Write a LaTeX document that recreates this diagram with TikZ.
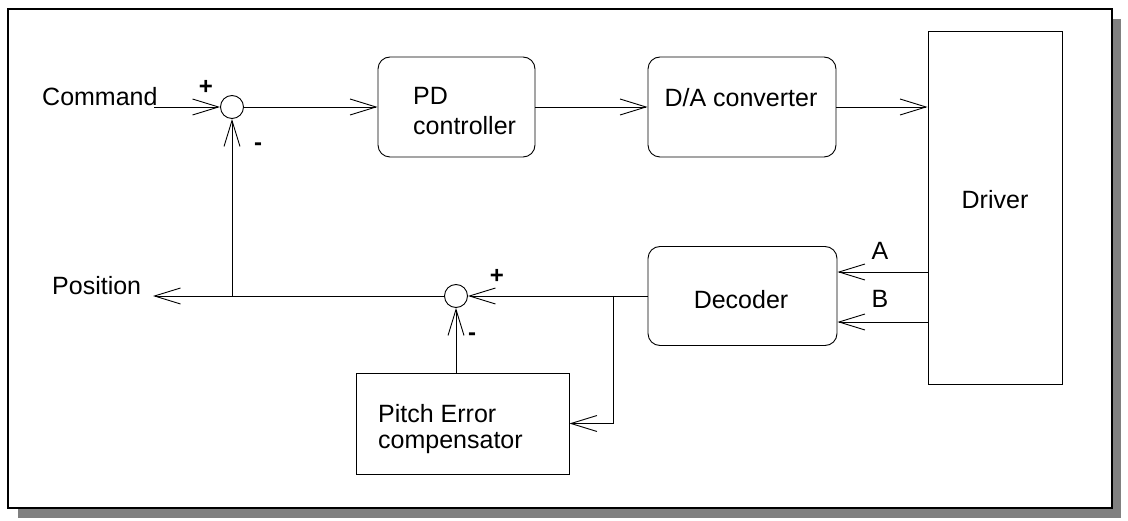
\documentclass[tikz,border=0pt]{standalone}
\usepackage{fontspec}
\setmainfont{Liberation Sans}
\usetikzlibrary{arrows.meta}
\begin{document}
\begin{tikzpicture}[x=1pt,y=-1pt,
  ln/.style={line width=0.9pt,black},
  barb/.style={ln,-{Straight Barb[length=26pt,width=16pt,line width=0.9pt]}},
  rbox/.style={draw,ln,rounded corners=12pt,inner sep=0pt},
  sbox/.style={draw,ln,inner sep=0pt},
  sumj/.style={draw,ln,circle,minimum size=23pt,inner sep=0pt},
  txt/.style={inner sep=0pt,font=\fontsize{25}{29}\selectfont},
  sign/.style={inner sep=0pt,font=\fontsize{24}{28}\selectfont\bfseries}]
\useasboundingbox (0,0) rectangle (1128,521);
% frame with shadow
\fill[black!50] (18,19) rectangle (1121,518);
\draw[line width=2pt,fill=white] (8,9) rectangle (1112,508);
% blocks
\node[rbox,minimum width=157pt,minimum height=100pt] (pd) at (456.5,107) {};
\node[rbox,minimum width=188pt,minimum height=100pt] (da) at (742,107) {};
\node[sbox,minimum width=134pt,minimum height=353pt] (drv) at (995,207.5) {};
\node[rbox,minimum width=189pt,minimum height=99pt] (dec) at (742.5,296) {};
\node[sbox,minimum width=213pt,minimum height=101pt] (pe) at (462.5,423.5) {};
\node[sumj] (s1) at (232,107) {};
\node[sumj] (s2) at (456,296) {};
% texts
\node[txt,anchor=base west] (tcmd) at (42,106) {Command};
\node[txt,anchor=base west] (tpos) at (52,295) {Position};
\node[txt,anchor=base west] (tpd1) at (413,105) {PD};
\node[txt,anchor=base west] (tpd2) at (413,135) {controller};
\node[txt] (tda) at (741,98) {D/A converter};
\node[txt] (tdrv) at (995,200) {Driver};
\node[txt] (tdec) at (741,300) {Decoder};
\node[txt,anchor=base west] (tpe1) at (378,422) {Pitch Error};
\node[txt,anchor=base west] (tpe2) at (378,449) {compensator};
\node[txt] (tA) at (880,251) {A};
\node[txt] (tB) at (880,299) {B};
\node[sign] (p1) at (206,87) {+};
\node[sign] (m1) at (258,147) {-};
\node[sign] (p2) at (497,276) {+};
\node[sign] (m2) at (472,337) {-};
% connectors
\coordinate (cmd) at (154,107);
\draw[barb] (cmd) -- (s1.west);
\draw[barb] (s1.east) -- (pd.west);
\draw[barb] (pd.east) -- (da.west);
\draw[barb] (da.east) -- (drv.west |- da.east);
\coordinate (aS) at (928,272);
\coordinate (bS) at (928,322);
\draw[barb] (aS) -- (aS -| dec.east);
\draw[barb] (bS) -- (bS -| dec.east);
\draw[barb] (dec.west) -- (s2.east);
\coordinate (posend) at (153,296);
\draw[barb] (s2.west) -- (posend);
\coordinate (j1) at (232,296);
\draw[barb] (j1) -- (s1.south);
\draw[barb] (pe.north -| s2.south) -- (s2.south);
\coordinate (br) at (613,296);
\draw[barb] (br) |- (pe.east);
\end{tikzpicture}
\end{document}
